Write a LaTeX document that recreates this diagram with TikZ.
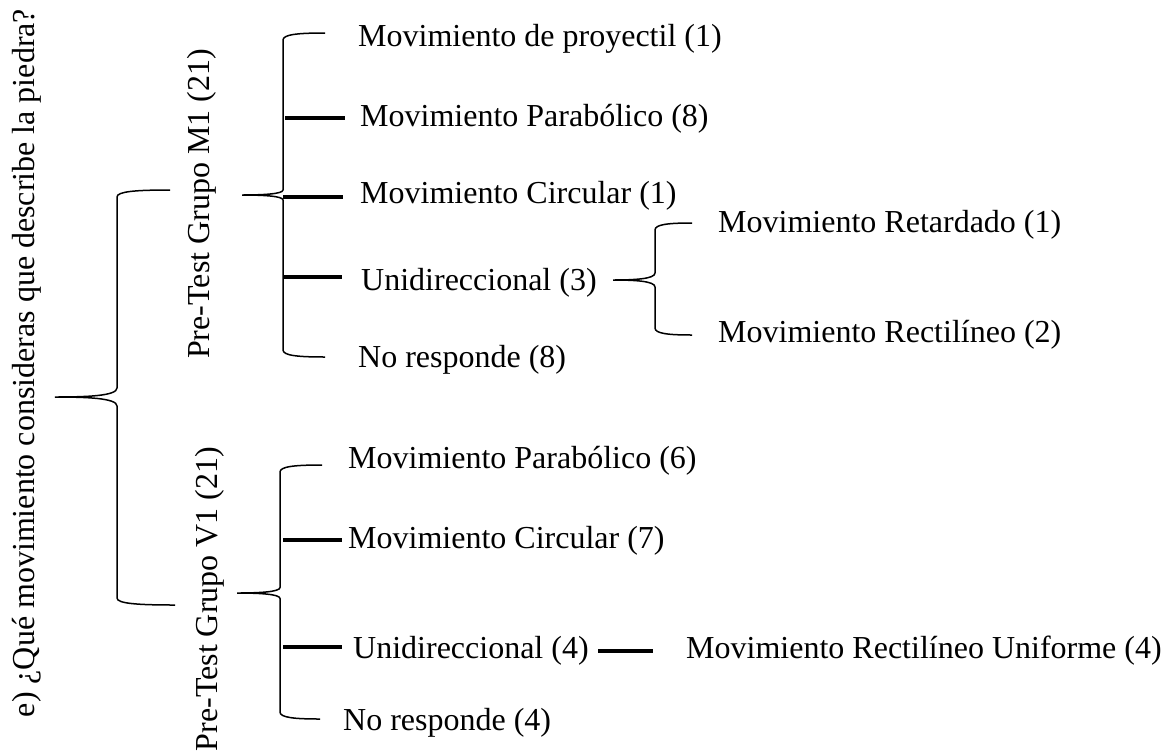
\documentclass[tikz,border=0pt]{standalone}
\usepackage{fontspec}
\setmainfont{Liberation Serif}
% #1 xtip, #2 ymid, #3 xspine, #4 xtopend, #5 ytop, #6 xbotend, #7 ybot, #8 half gap at middle
\newcommand\wbrace[8]{%
  \draw[bracel] (#4,#5) .. controls ({#3+0.35*(#4-#3)},#5) and (#3,{#5+1.5}) .. (#3,{#5+7})
    -- (#3,{#2-#8}) .. controls (#3,{#2-1}) and ({#1+0.5*(#3-#1)},#2) .. (#1,#2)
    .. controls ({#1+0.5*(#3-#1)},#2) and (#3,{#2+1}) .. (#3,{#2+#8})
    -- (#3,{#7-7}) .. controls (#3,{#7-1.5}) and ({#3+0.35*(#6-#3)},#7) .. (#6,#7);}
\begin{document}
\begin{tikzpicture}[x=1pt,y=-1pt,
  font=\fontsize{32}{38}\selectfont,
  lbl/.style={anchor=base west, inner sep=0pt},
  vlbl/.style={rotate=90, anchor=base, inner sep=0pt},
  bracel/.style={line width=1.5pt},
  thickl/.style={line width=4pt}]
\useasboundingbox (0,0) rectangle (1166,750);

% rotated labels
\node[vlbl] (q)  at (34,363)  {e) ¿Qué movimiento consideras que describe la piedra?};
\node[vlbl] (m1) at (209,204) {Pre-Test Grupo M1 (21)};
\node[vlbl] (v1) at (217,599) {Pre-Test Grupo V1 (21)};

% group M1
\node[lbl] (a1)  at (358,46)  {Movimiento de proyectil (1)};
\node[lbl] (a2)  at (360,126) {Movimiento Parabólico (8)};
\node[lbl] (a3)  at (360,203) {Movimiento Circular (1)};
\node[lbl] (a4)  at (361,290) {Unidireccional (3)};
\node[lbl] (a5)  at (358,367) {No responde (8)};
\node[lbl] (a41) at (718,232) {Movimiento Retardado (1)};
\node[lbl] (a42) at (718,342) {Movimiento Rectilíneo (2)};

% group V1
\node[lbl] (b1)  at (348,468) {Movimiento Parabólico (6)};
\node[lbl] (b2)  at (348,548) {Movimiento Circular (7)};
\node[lbl] (b3)  at (353,658) {Unidireccional (4)};
\node[lbl] (b4)  at (343,730) {No responde (4)};
\node[lbl] (b31) at (686,658) {Movimiento Rectilíneo Uniforme (4)};

% braces
\wbrace{55}{397}{117}{170}{190}{175}{605}{9}
\wbrace{242}{195}{283}{325}{33}{325}{357}{5}
\wbrace{237}{593}{280}{322}{465}{320}{719}{5.5}
\wbrace{613}{280}{655}{692}{223}{692}{335}{7}

% thick connectors
\coordinate (s2) at (285,118); \coordinate (e2) at (345,118);
\coordinate (s3) at (283,197); \coordinate (e3) at (343,197);
\coordinate (s4) at (283,277); \coordinate (e4) at (342,277);
\coordinate (t2) at (283,540); \coordinate (f2) at (342,540);
\coordinate (t3) at (283,647); \coordinate (f3) at (342,647);
\coordinate (u1) at (598,651); \coordinate (u2) at (653,651);
\draw[thickl] (s2) -- (e2);
\draw[thickl] (s3) -- (e3);
\draw[thickl] (s4) -- (e4);
\draw[thickl] (t2) -- (f2);
\draw[thickl] (t3) -- (f3);
\draw[thickl] (u1) -- (u2);
\end{tikzpicture}
\end{document}
